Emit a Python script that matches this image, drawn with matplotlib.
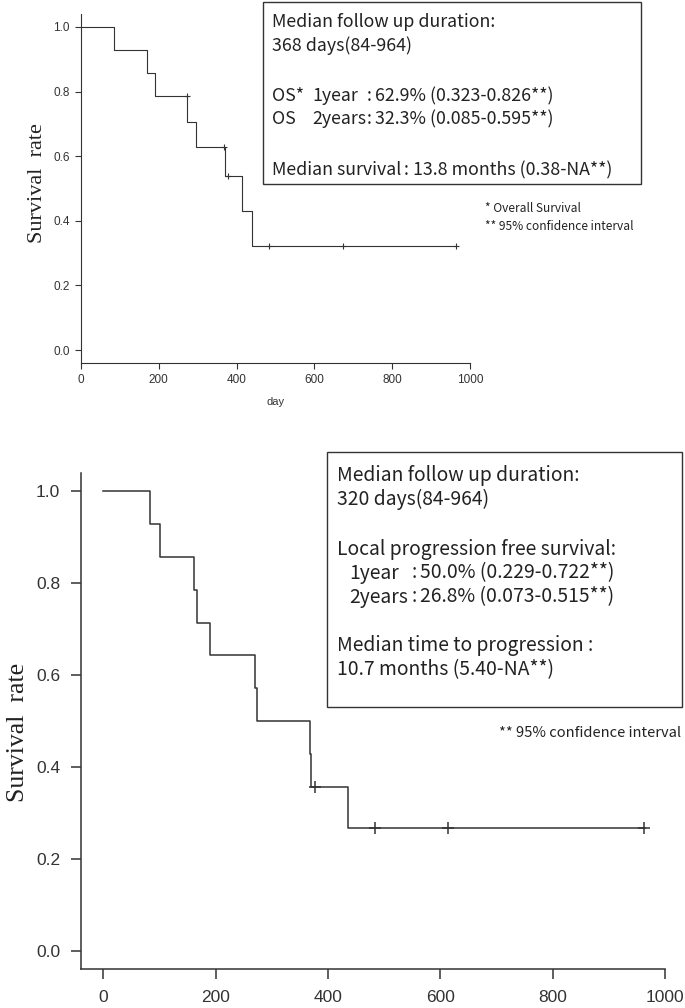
import numpy as np
import matplotlib
matplotlib.use("Agg")
import matplotlib.pyplot as plt
from matplotlib.patches import Rectangle

# Overall survival (top panel)
os_time = [0, 86, 169, 191, 273, 296, 370, 415, 440, 964]
os_surv = [1.0, 0.929, 0.857, 0.786, 0.707, 0.629, 0.539, 0.431, 0.323, 0.323]
os_cens_time = [272, 368, 379, 483, 673, 964]
os_cens_surv = [0.786, 0.629, 0.539, 0.323, 0.323, 0.323]

# Local progression free survival (bottom panel)
lp_time = [0, 82, 100, 161, 167, 190, 270, 273, 367, 369, 436, 964]
lp_surv = [1.0, 0.929, 0.857, 0.786, 0.714, 0.643, 0.571, 0.5, 0.429, 0.357, 0.268, 0.268]
lp_cens_time = [376, 484, 613, 963]
lp_cens_surv = [0.357, 0.268, 0.268, 0.268]

x_ticks = [0, 200, 400, 600, 800, 1000]
y_ticks = [0.0, 0.2, 0.4, 0.6, 0.8, 1.0]

# box texts: each line is split in pieces (prefix, label, colon, value)
top_lines = [["Median follow up duration:"],
             ["368 days(84-964)"],
             [],
             ["OS*", "1year", ":", "62.9% (0.323-0.826**)"],
             ["OS", "2years", ":", "32.3% (0.085-0.595**)"],
             [],
             ["Median survival", ":", "13.8 months (0.38-NA**)"]]
top_notes = ["* Overall Survival", "** 95% confidence interval"]

bot_lines = [["Median follow up duration:"],
             ["320 days(84-964)"],
             [],
             ["Local progression free survival:"],
             ["1year", ":", "50.0% (0.229-0.722**)"],
             ["2years", ":", "26.8% (0.073-0.515**)"],
             [],
             ["Median time to progression :"],
             ["10.7 months (5.40-NA**)"]]
bot_note = "** 95% confidence interval"

W, H = 685, 1008
LINE = "#333333"
TXT = "#222222"
JP = ["Noto Sans CJK JP", "DejaVu Sans"]

def fx(x):
    return x / W

def fy(y):
    return 1 - y / H

fig = plt.figure(figsize=(W / 100, H / 100), dpi=100)

def style_axes(ax, fs, ticklen, pad, lw):
    for s in ["top", "right"]:
        ax.spines[s].set_visible(False)
    for s in ["left", "bottom"]:
        ax.spines[s].set_color(LINE)
        ax.spines[s].set_linewidth(lw)
    ax.set_xticks(x_ticks)
    ax.set_yticks(y_ticks)
    ax.set_yticklabels(["%.1f" % v for v in y_ticks])
    ax.tick_params(direction="out", length=ticklen, width=lw, color=LINE,
                   labelsize=fs, labelcolor="#333333", pad=pad)
    for lab in ax.get_xticklabels() + ax.get_yticklabels():
        lab.set_family("Liberation Sans")

# top panel
ax1 = fig.add_axes([fx(81), fy(363), fx(470) - fx(81), fy(14) - fy(363)])
ax1.step(os_time, os_surv, where="post", color=LINE, lw=0.8)
ax1.plot(os_cens_time, os_cens_surv, "+", color=LINE, ms=5, mew=0.8)
ax1.set_xlim(0, 1000)
ax1.set_ylim(-0.04, 1.04)
style_axes(ax1, 8.5, 4, 4, 0.8)
ax1.set_xlabel("day", fontsize=8, family="Liberation Sans", color="#333333", labelpad=8)
ax1.set_ylabel("Survival  rate", fontsize=16, family="Liberation Serif", color=TXT)
ax1.yaxis.set_label_coords((47 - 81) / 389, (363 - 183) / 349)

# bottom panel
ax2 = fig.add_axes([fx(81), fy(969), fx(665) - fx(81), fy(473) - fy(969)])
ax2.step(lp_time, lp_surv, where="post", color=LINE, lw=1.1)
ax2.plot(lp_cens_time, lp_cens_surv, "+", color=LINE, ms=8, mew=1.1)
ax2.set_xlim(-40, 1000)
ax2.set_ylim(-0.04, 1.04)
style_axes(ax2, 12.5, 7, 8, 1.1)
ax2.set_ylabel("Survival  rate", fontsize=18.5, family="Liberation Serif", color=TXT)
ax2.yaxis.set_label_coords((29 - 81) / 584, (969 - 732) / 496)

def draw_box(lines, ys, xs_list, left, top, right, bottom, fs):
    fig.add_artist(Rectangle((fx(left), fy(bottom)), fx(right) - fx(left), fy(top) - fy(bottom),
                             transform=fig.transFigure, fill=False, ec=LINE, lw=1.0))
    for pieces, y, xs in zip(lines, ys, xs_list):
        for t, x in zip(pieces, xs):
            fig.text(fx(x), fy(y), t, fontsize=fs, family=JP, color=TXT, va="center")

# top text box
draw_box(top_lines, [22, 46, 0, 96, 119, 0, 170],
         [[272], [272], [], [272, 312, 367, 375], [272, 312, 367, 375], [], [272, 404, 413]],
         263, 2, 641, 184, 12.8)
for note, y in zip(top_notes, [209, 226]):
    fig.text(fx(485), fy(y), note, fontsize=8.6, family=JP, color=TXT, va="center")

# bottom text box
draw_box(bot_lines, [475, 499, 0, 549, 573, 597, 0, 646, 670],
         [[337], [337], [], [337], [349, 412, 420], [349, 412, 420], [], [337], [337]],
         327, 452, 682, 707, 13.9)
fig.text(fx(681), fy(733), bot_note, fontsize=10.6, family=JP, color=TXT, va="center", ha="right")

fig.savefig("out.png", dpi=100)
